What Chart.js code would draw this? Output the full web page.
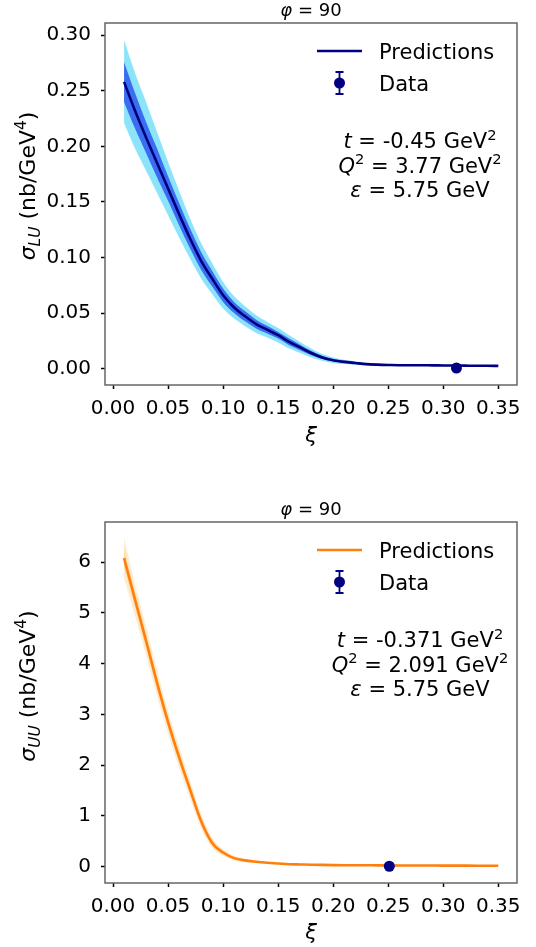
<!DOCTYPE html>
<html>
<head>
<meta charset="utf-8">
<script src="https://cdn.jsdelivr.net/npm/chart.js@4.4.0/dist/chart.umd.min.js"></script>
<style>
  html, body { margin: 0; padding: 0; background: #fff; }
  .box { position: relative; width: 536px; }
</style>
</head>
<body>
<div class="box" style="height:470px"><canvas id="chart-lu"></canvas></div>
<div class="box" style="height:477px"><canvas id="chart-uu"></canvas></div>
<script>
// xi grid of the predictions
const xi = [0.01, 0.02, 0.03, 0.04, 0.05, 0.06, 0.07, 0.08, 0.09, 0.10,
  0.11, 0.12, 0.13, 0.14, 0.15, 0.16, 0.17, 0.18, 0.19, 0.20,
  0.21, 0.22, 0.23, 0.24, 0.25, 0.26, 0.27, 0.28, 0.29, 0.30,
  0.31, 0.32, 0.33, 0.34, 0.35];

// sigma_LU (top panel)
const luMid = [0.258, 0.232, 0.208, 0.185, 0.162, 0.139, 0.117, 0.097, 0.081, 0.066,
  0.055, 0.047, 0.040, 0.035, 0.030, 0.024, 0.019, 0.014, 0.010, 0.0075,
  0.006, 0.005, 0.004, 0.0035, 0.0032, 0.003, 0.003, 0.003, 0.0029, 0.0028,
  0.0027, 0.0026, 0.0025, 0.0025, 0.0024];
const luDarkHi = [0.276, 0.248, 0.222, 0.198, 0.173, 0.149, 0.126, 0.105, 0.088, 0.072,
  0.060, 0.0515, 0.044, 0.0385, 0.033, 0.027, 0.0215, 0.016, 0.0115, 0.0085,
  0.007, 0.0058, 0.0047, 0.0041, 0.0037, 0.0035, 0.0035, 0.0034, 0.0033, 0.0032,
  0.0031, 0.003, 0.0029, 0.0029, 0.0028];
const luDarkLo = [0.240, 0.216, 0.194, 0.172, 0.151, 0.129, 0.108, 0.089, 0.074, 0.060,
  0.050, 0.0425, 0.036, 0.0315, 0.027, 0.021, 0.0165, 0.012, 0.0085, 0.0065,
  0.005, 0.0042, 0.0033, 0.0029, 0.0027, 0.0025, 0.0025, 0.0026, 0.0025, 0.0024,
  0.0023, 0.0022, 0.0021, 0.0021, 0.002];
const luLightHi = [0.296, 0.266, 0.240, 0.213, 0.186, 0.160, 0.135, 0.113, 0.095, 0.078,
  0.065, 0.056, 0.048, 0.042, 0.0365, 0.030, 0.024, 0.018, 0.013, 0.010,
  0.008, 0.0065, 0.005, 0.0045, 0.004, 0.0038, 0.0037, 0.0036, 0.0035, 0.0034,
  0.0033, 0.0032, 0.0031, 0.0031, 0.003];
const luLightLo = [0.221, 0.198, 0.178, 0.158, 0.138, 0.118, 0.099, 0.081, 0.067, 0.054,
  0.045, 0.038, 0.032, 0.028, 0.0235, 0.018, 0.014, 0.010, 0.007, 0.005,
  0.004, 0.0035, 0.003, 0.0025, 0.0024, 0.0022, 0.0023, 0.0024, 0.0023, 0.0022,
  0.0021, 0.002, 0.0019, 0.0019, 0.0018];
const luDataXi = [0.312];
const luData = [0.0005];

// sigma_UU (bottom panel)
const uuMid = [6.08, 5.26, 4.45, 3.62, 2.85, 2.16, 1.52, 0.90, 0.47, 0.28,
  0.17, 0.125, 0.10, 0.08, 0.065, 0.05, 0.045, 0.04, 0.036, 0.033,
  0.031, 0.03, 0.029, 0.028, 0.027, 0.026, 0.025, 0.025, 0.024, 0.023,
  0.023, 0.022, 0.021, 0.021, 0.02];
const uuInnerHi = [6.28, 5.42, 4.60, 3.75, 2.97, 2.27, 1.61, 0.98, 0.53, 0.31,
  0.195, 0.14, 0.112, 0.09, 0.073, 0.058, 0.051, 0.045, 0.04, 0.037,
  0.034, 0.033, 0.032, 0.031, 0.03, 0.029, 0.028, 0.027, 0.026, 0.025,
  0.025, 0.024, 0.023, 0.023, 0.022];
const uuInnerLo = [5.88, 5.10, 4.30, 3.49, 2.73, 2.05, 1.43, 0.82, 0.42, 0.245,
  0.145, 0.11, 0.088, 0.07, 0.057, 0.042, 0.039, 0.035, 0.032, 0.029,
  0.028, 0.027, 0.026, 0.025, 0.024, 0.023, 0.022, 0.023, 0.022, 0.021,
  0.021, 0.02, 0.019, 0.019, 0.018];
const uuOuterHi = [6.48, 5.58, 4.74, 3.88, 3.08, 2.37, 1.70, 1.05, 0.58, 0.35,
  0.22, 0.16, 0.125, 0.10, 0.082, 0.065, 0.057, 0.05, 0.045, 0.041,
  0.038, 0.036, 0.035, 0.034, 0.032, 0.031, 0.030, 0.030, 0.029, 0.028,
  0.027, 0.026, 0.025, 0.025, 0.024];
const uuOuterLo = [5.68, 4.94, 4.16, 3.36, 2.62, 1.95, 1.34, 0.75, 0.37, 0.21,
  0.12, 0.09, 0.075, 0.06, 0.048, 0.035, 0.033, 0.03, 0.027, 0.025,
  0.024, 0.024, 0.023, 0.022, 0.022, 0.021, 0.02, 0.02, 0.019, 0.018,
  0.019, 0.018, 0.017, 0.017, 0.016];
const uuDataXi = [0.251];
const uuData = [0.01];

// tick labels
const xTicks = [0.00, 0.05, 0.10, 0.15, 0.20, 0.25, 0.30, 0.35];
const luTicks = [0.00, 0.05, 0.10, 0.15, 0.20, 0.25, 0.30];
const uuTicks = [0, 1, 2, 3, 4, 5, 6];

const FONT = '"DejaVu Sans", Verdana, sans-serif';
const NAVY = '#000080';

const pts = (xs, ys) => xs.map((x, i) => ({ x: x, y: ys[i] }));

function fontOf(p, size) {
  return (p.it ? 'italic ' : '') + (size * (p.s || 1)) + 'px ' + FONT;
}

// draws a run of text pieces (italic / sub / superscript) on one baseline
function drawRich(ctx, parts, x, y, size, align) {
  let w = 0;
  parts.forEach(p => { ctx.font = fontOf(p, size); w += ctx.measureText(p.t).width; });
  let cx = align === 'center' ? x - w / 2 : (align === 'right' ? x - w : x);
  ctx.textAlign = 'left';
  ctx.textBaseline = 'alphabetic';
  parts.forEach(p => {
    ctx.font = fontOf(p, size);
    ctx.fillText(p.t, cx, y + (p.dy || 0) * size);
    cx += ctx.measureText(p.t).width;
  });
}

const bandLine = (data, color, fill, order) => ({
  data: data, borderColor: 'transparent', borderWidth: 0, pointRadius: 0,
  backgroundColor: color, fill: fill, order: order, cubicInterpolationMode: 'monotone'
});

function decor(opts) {
  return {
    id: 'decor',
    afterDraw(chart) {
      const ctx = chart.ctx;
      const ca = chart.chartArea;
      ctx.save();
      // frame
      ctx.strokeStyle = '#666';
      ctx.lineWidth = 1.5;
      ctx.strokeRect(ca.left, ca.top, ca.right - ca.left, ca.bottom - ca.top);
      ctx.fillStyle = '#000';
      // title
      drawRich(ctx, [{ t: 'φ', it: true }, { t: ' = 90' }], (ca.left + ca.right) / 2, ca.top - 7, 18, 'center');
      // x label
      drawRich(ctx, [{ t: 'ξ', it: true }], (ca.left + ca.right) / 2, opts.xiY, 21, 'center');
      // y label
      ctx.save();
      ctx.translate(35, opts.yLabelY);
      ctx.rotate(-Math.PI / 2);
      drawRich(ctx, [{ t: 'σ', it: true }, { t: opts.sub, it: true, s: 0.7, dy: 0.22 },
        { t: ' (nb/GeV' }, { t: '4', s: 0.7, dy: -0.4 }, { t: ')' }], 0, 0, 22, 'center');
      ctx.restore();
      // legend
      const ly = ca.top + 28;
      ctx.strokeStyle = opts.lineColor;
      ctx.lineWidth = 2.6;
      ctx.beginPath();
      ctx.moveTo(317, ly);
      ctx.lineTo(362, ly);
      ctx.stroke();
      ctx.fillStyle = '#000';
      drawRich(ctx, [{ t: 'Predictions' }], 379, ly + 7.5, 21, 'left');
      const dy = ly + 32;
      ctx.strokeStyle = NAVY;
      ctx.lineWidth = 1.8;
      ctx.beginPath();
      ctx.moveTo(339.5, dy - 11); ctx.lineTo(339.5, dy + 11);
      ctx.moveTo(335.5, dy - 11); ctx.lineTo(343.5, dy - 11);
      ctx.moveTo(335.5, dy + 11); ctx.lineTo(343.5, dy + 11);
      ctx.stroke();
      ctx.fillStyle = NAVY;
      ctx.beginPath();
      ctx.arc(339.5, dy, 5.5, 0, Math.PI * 2);
      ctx.fill();
      ctx.fillStyle = '#000';
      drawRich(ctx, [{ t: 'Data' }], 379, dy + 7.5, 21, 'left');
      // kinematics
      const ax = 420, ay = ca.top + 125;
      opts.kin.forEach((line, i) => drawRich(ctx, line, ax, ay + i * 24.5, 21, 'center'));
      ctx.restore();
    }
  };
}

function makeChart(id, cfg) {
  const tickFont = { family: FONT, size: 20 };
  return new Chart(document.getElementById(id), {
    type: 'line',
    data: {
      datasets: [
        { label: 'Data', data: cfg.dataPts, showLine: false, pointRadius: 5.5, pointHoverRadius: 5.5,
          pointBackgroundColor: NAVY, pointBorderWidth: 0, pointBorderColor: NAVY, order: 0 },
        { label: 'Predictions', data: cfg.mid, borderColor: cfg.lineColor, borderWidth: 2.6,
          pointRadius: 0, fill: false, order: 1, cubicInterpolationMode: 'monotone' },
        bandLine(cfg.innerHi, cfg.innerColor, '+1', 2),
        bandLine(cfg.innerLo, 'transparent', false, 3),
        bandLine(cfg.outerHi, cfg.outerColor, '+1', 4),
        bandLine(cfg.outerLo, 'transparent', false, 5)
      ]
    },
    options: {
      responsive: true,
      maintainAspectRatio: false,
      animation: false,
      devicePixelRatio: 1,
      layout: { padding: { left: 0, right: 19, top: cfg.top, bottom: 0 } },
      plugins: { legend: { display: false }, tooltip: { enabled: false } },
      scales: {
        x: {
          type: 'linear',
          min: -0.0073,
          max: 0.367,
          afterBuildTicks: s => { s.ticks = xTicks.map(v => ({ value: v })); },
          afterFit: s => { s.height = cfg.xHeight; },
          ticks: { callback: v => v.toFixed(2), font: tickFont, color: '#000', padding: 8,
            maxRotation: 0, autoSkip: false },
          grid: { drawOnChartArea: false, drawTicks: true, tickLength: 4, tickWidth: 1.5, tickColor: '#000' },
          border: { display: false }
        },
        y: {
          min: cfg.yMin,
          max: cfg.yMax,
          afterBuildTicks: s => { s.ticks = cfg.yTicks.map(v => ({ value: v })); },
          afterFit: s => { s.width = 105; },
          ticks: { callback: cfg.yFmt, font: tickFont, color: '#000', padding: 10 },
          grid: { drawOnChartArea: false, drawTicks: true, tickLength: 4, tickWidth: 1.5, tickColor: '#000' },
          border: { display: false }
        }
      }
    },
    plugins: [decor(cfg)]
  });
}

makeChart('chart-lu', {
  dataPts: pts(luDataXi, luData),
  mid: pts(xi, luMid),
  innerHi: pts(xi, luDarkHi), innerLo: pts(xi, luDarkLo),
  outerHi: pts(xi, luLightHi), outerLo: pts(xi, luLightLo),
  lineColor: NAVY, innerColor: '#3a6ef0', outerColor: '#8ce4fa',
  top: 23, xHeight: 85, yMin: -0.0148, yMax: 0.311, yTicks: luTicks,
  yFmt: v => v.toFixed(2), sub: 'LU', yLabelY: 186, xiY: 442,
  kin: [
    [{ t: 't', it: true }, { t: ' = -0.45 GeV' }, { t: '2', s: 0.7, dy: -0.4 }],
    [{ t: 'Q', it: true }, { t: '2', s: 0.7, dy: -0.4 }, { t: ' = 3.77 GeV' }, { t: '2', s: 0.7, dy: -0.4 }],
    [{ t: 'ε', it: true }, { t: ' = 5.75 GeV' }]
  ]
});

makeChart('chart-uu', {
  dataPts: pts(uuDataXi, uuData),
  mid: pts(xi, uuMid),
  innerHi: pts(xi, uuInnerHi), innerLo: pts(xi, uuInnerLo),
  outerHi: pts(xi, uuOuterHi), outerLo: pts(xi, uuOuterLo),
  lineColor: '#ff7f0e', innerColor: '#fcdcaa', outerColor: '#fdeccf',
  top: 52, xHeight: 64, yMin: -0.32, yMax: 6.79, yTicks: uuTicks,
  yFmt: v => String(v), sub: 'UU', yLabelY: 216, xiY: 469,
  kin: [
    [{ t: 't', it: true }, { t: ' = -0.371 GeV' }, { t: '2', s: 0.7, dy: -0.4 }],
    [{ t: 'Q', it: true }, { t: '2', s: 0.7, dy: -0.4 }, { t: ' = 2.091 GeV' }, { t: '2', s: 0.7, dy: -0.4 }],
    [{ t: 'ε', it: true }, { t: ' = 5.75 GeV' }]
  ]
});
</script>
</body>
</html>
